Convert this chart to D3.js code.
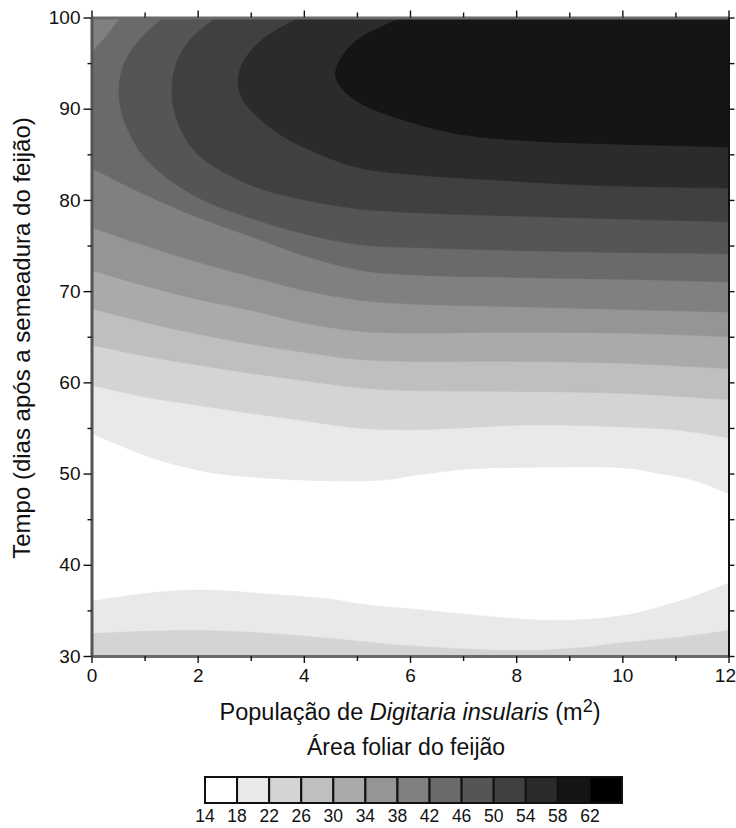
<!DOCTYPE html>
<html><head><meta charset="utf-8">
<script src="https://cdn.jsdelivr.net/npm/d3@7"></script>
<style>body{margin:0;background:#fff} text{font-family:"Liberation Sans",Arial,sans-serif;fill:#111}</style>
</head><body><svg id="c" width="736" height="828"></svg>
<script>
// ---- data ----
const xTickValues = [0,1,2,3,4,5,6,7,8,9,10,11,12];
const yTickValues = [30,35,40,45,50,55,60,65,70,75,80,85,90,95,100];
const legendLabels = [14,18,22,26,30,34,38,42,46,50,54,58,62];
// contour lines [x (plants/m2), y (days)] for each level
const c18Lower = [[0,36.0],[0.79,36.7],[1.73,37.2],[2.36,37.2],[3.3,36.8],[4.55,36.2],[5.06,35.7],[6.32,35.0],[7.57,34.3],[8.83,33.9],[10.09,34.5],[10.71,35.4],[11.33,36.5],[12,38.0]];
const c22Lower = [[0,32.45],[1,32.7],[2.04,32.8],[3.3,32.5],[4.55,31.9],[5.81,31.2],[6.94,30.8],[8.2,30.6],[9.2,30.9],[10,31.45],[11,32.0],[12,32.8]];
const c18Upper = [[0,54.4],[0.45,53.3],[1.1,51.8],[1.73,50.75],[2.36,50.0],[3.3,49.5],[4.55,49.2],[5.5,49.3],[6.2,49.9],[7.13,50.5],[8.5,50.7],[10.09,50.6],[10.6,50.1],[11.33,49.3],[12,47.8]];
const c22Upper = [[0,59.7],[1,58.4],[2,57.5],[3,56.6],[4,55.8],[5,55.0],[6,54.8],[7,55.0],[8,55.3],[9,55.3],[10,55.1],[11,54.8],[12,53.9]];
const c26 = [[0,64.1],[1,62.9],[2,61.9],[3,61.0],[4,60.2],[5.06,59.4],[6,59.1],[8,59.0],[10,58.8],[12,58.1]];
const c30 = [[0,68.1],[1,66.6],[2,65.3],[3,64.2],[4,63.3],[5.06,62.5],[6,62.3],[8,62.3],[10,62.1],[12,61.5]];
const c34 = [[0,72.3],[1,70.6],[2,69.1],[3,67.9],[4,66.5],[5.06,65.6],[6,65.4],[8,65.5],[10,65.4],[12,65.0]];
const c38 = [[0,77.0],[1,75.0],[2,73.2],[3,71.6],[4,70.1],[5.06,69.0],[6,68.6],[8,68.3],[10,68.0],[12,67.7]];
const c42 = [[0,83.5],[1,80.6],[2,78.1],[3,76.0],[4,73.9],[5.06,72.3],[6,71.8],[8,71.5],[10,71.3],[12,71.0]];
const c42Corner = [[0.54,100],[0.29,98.1],[0,96.2]];
const c46 = [[1.35,100],[0.9,97.5],[0.62,95],[0.52,92.5],[0.55,90],[0.7,87.5],[0.95,85],[1.4,82.5],[2.1,80],[3.0,78],[4.0,76.3],[5.06,75.1],[6.5,74.7],[8.5,74.4],[10.5,74.2],[12,74.1]];
const c50 = [[2.36,100],[1.85,97.5],[1.6,95],[1.52,92.5],[1.55,90],[1.7,87.5],[2.0,85],[2.5,83],[3.2,81.2],[4.1,79.9],[5.06,79.0],[6.5,78.5],[8.2,78.2],[10,77.9],[12,77.6]];
const c54 = [[3.93,100],[3.2,97.5],[2.85,95],[2.76,93],[2.85,91],[3.15,89],[3.6,87],[4.3,85],[5.06,83.5],[6.2,82.7],[7.57,82.2],[9.45,81.6],[12,81.3]];
const c58 = [[5.87,100],[5.0,97.5],[4.65,95],[4.6,93.5],[4.75,92.0],[5.06,90.6],[5.8,88.9],[6.94,87.2],[8.2,86.5],[9.45,86.2],[10.7,86.0],[12,85.8]];

// ---- styles ----
const bandColors = ["#ffffff","#e9e9e9","#d4d4d4","#bfbfbf","#aaaaaa","#959595","#808080","#6a6a6a","#555555","#404040","#2b2b2b","#151515","#000000"];
const FONT = '"Liberation Sans",Arial,sans-serif';

const svg = d3.select("#c");
const L = 91.5, R = 728.5, T = 17.5, B = 656;
const xs = d3.scaleLinear().domain([0,12]).range([L,R]);
const ys = d3.scaleLinear().domain([30,100]).range([B,T]);
const line = d3.line().x(d=>xs(d[0])).y(d=>ys(d[1])).curve(d3.curveCatmullRom.alpha(0.5));

svg.append("clipPath").attr("id","clip").append("rect").attr("x",L).attr("y",T).attr("width",R-L).attr("height",B-T);
const g = svg.append("g").attr("clip-path","url(#clip)");
g.append("rect").attr("x",L).attr("y",T).attr("width",R-L).attr("height",B-T).attr("fill",bandColors[0]);

function above(pts){ return line(pts)+`L${xs(12)+2},${ys(pts[pts.length-1][1])}L${xs(12)+2},${ys(100)-2}L${xs(0)-2},${ys(100)-2}L${xs(0)-2},${ys(pts[0][1])}Z`; }
function below(pts){ return line(pts)+`L${xs(12)+2},${ys(pts[pts.length-1][1])}L${xs(12)+2},${ys(30)+2}L${xs(0)-2},${ys(30)+2}L${xs(0)-2},${ys(pts[0][1])}Z`; }
function cap(pts){ return line(pts)+`L${xs(12)+2},${ys(pts[pts.length-1][1])}L${xs(12)+2},${ys(100)-2}L${xs(pts[0][0])},${ys(100)-2}Z`; }
function corner(pts){ return line(pts)+`L${xs(0)-2},${ys(pts[pts.length-1][1])}L${xs(0)-2},${ys(100)-2}L${xs(pts[0][0])},${ys(100)-2}Z`; }

const layers = [
  [below(c18Lower),1],[below(c22Lower),2],
  [above(c18Upper),1],[above(c22Upper),2],[above(c26),3],[above(c30),4],[above(c34),5],[above(c38),6],[above(c42),7],
  [corner(c42Corner),6],
  [cap(c46),8],[cap(c50),9],[cap(c54),10],[cap(c58),11]
];
g.selectAll("path.band").data(layers).join("path").attr("class","band")
  .attr("d",d=>d[0]).attr("fill",d=>bandColors[d[1]]).attr("stroke",d=>bandColors[d[1]]).attr("stroke-width",0.5);

// ---- axes ----
function styleAxis(sel, col, w){
  sel.select(".domain").attr("stroke",col).attr("stroke-width",w);
  sel.selectAll(".tick line").attr("stroke","#111").attr("stroke-width",1.4);
  sel.selectAll(".tick text").attr("font-size",19).attr("fill","#111").attr("font-family",FONT);
}
const xb = svg.append("g").attr("transform",`translate(0,${B})`)
  .call(d3.axisBottom(xs).tickValues(xTickValues).tickSize(7).tickPadding(6).tickSizeOuter(0).tickFormat(d=>d%2===0?d:""));
styleAxis(xb,"#6a6a6a",3);
xb.selectAll(".tick").filter(d=>d%2!==0).select("line").attr("y2",5);
xb.selectAll(".tick").filter(d=>d===12).select("text").attr("text-anchor","end").attr("dx",7);
const xt = svg.append("g").attr("transform",`translate(0,${T})`)
  .call(d3.axisTop(xs).tickValues(xTickValues).tickSize(7).tickSizeOuter(0).tickFormat(""));
styleAxis(xt,"#6a6a6a",3);
xt.selectAll(".tick").filter(d=>d%2!==0).select("line").attr("y2",-5);
const yl = svg.append("g").attr("transform",`translate(${L},0)`)
  .call(d3.axisLeft(ys).tickValues(yTickValues).tickSize(8).tickPadding(3).tickSizeOuter(0).tickFormat(d=>d%10===0?d:""));
styleAxis(yl,"#555",3);
yl.selectAll(".tick").filter(d=>d%10!==0).select("line").attr("x2",-4);
const yr = svg.append("g").attr("transform",`translate(${R},0)`)
  .call(d3.axisRight(ys).tickValues(yTickValues).tickSize(6).tickSizeOuter(0).tickFormat(""));
styleAxis(yr,"#111",2);

// ---- titles ----
const xt1 = svg.append("text").attr("x",410).attr("y",720).attr("text-anchor","middle").attr("font-size",23.5);
xt1.append("tspan").text("População de ");
xt1.append("tspan").attr("font-style","italic").text("Digitaria insularis");
xt1.append("tspan").text(" (m");
xt1.append("tspan").attr("dy",-8).attr("font-size",18).text("2");
xt1.append("tspan").attr("dy",8).text(")");
svg.append("text").attr("x",406).attr("y",755).attr("text-anchor","middle").attr("font-size",23).text("Área foliar do feijão");
svg.append("text").attr("transform","translate(30,338) rotate(-90)").attr("text-anchor","middle").attr("font-size",24)
  .text("Tempo (dias após a semeadura do feijão)");

// ---- legend ----
const lx = d3.scaleBand().domain(legendLabels).range([205,622]).paddingInner(0);
const lg = svg.append("g");
lg.selectAll("rect").data(legendLabels).join("rect")
  .attr("x",d=>lx(d)).attr("y",777).attr("width",lx.bandwidth()).attr("height",26)
  .attr("fill",(d,i)=>bandColors[i]).attr("stroke","#111").attr("stroke-width",2);
lg.selectAll("text").data(legendLabels).join("text")
  .attr("x",d=>lx(d)).attr("y",822).attr("text-anchor","middle").attr("font-size",17.5).text(d=>d);
</script></body></html>
